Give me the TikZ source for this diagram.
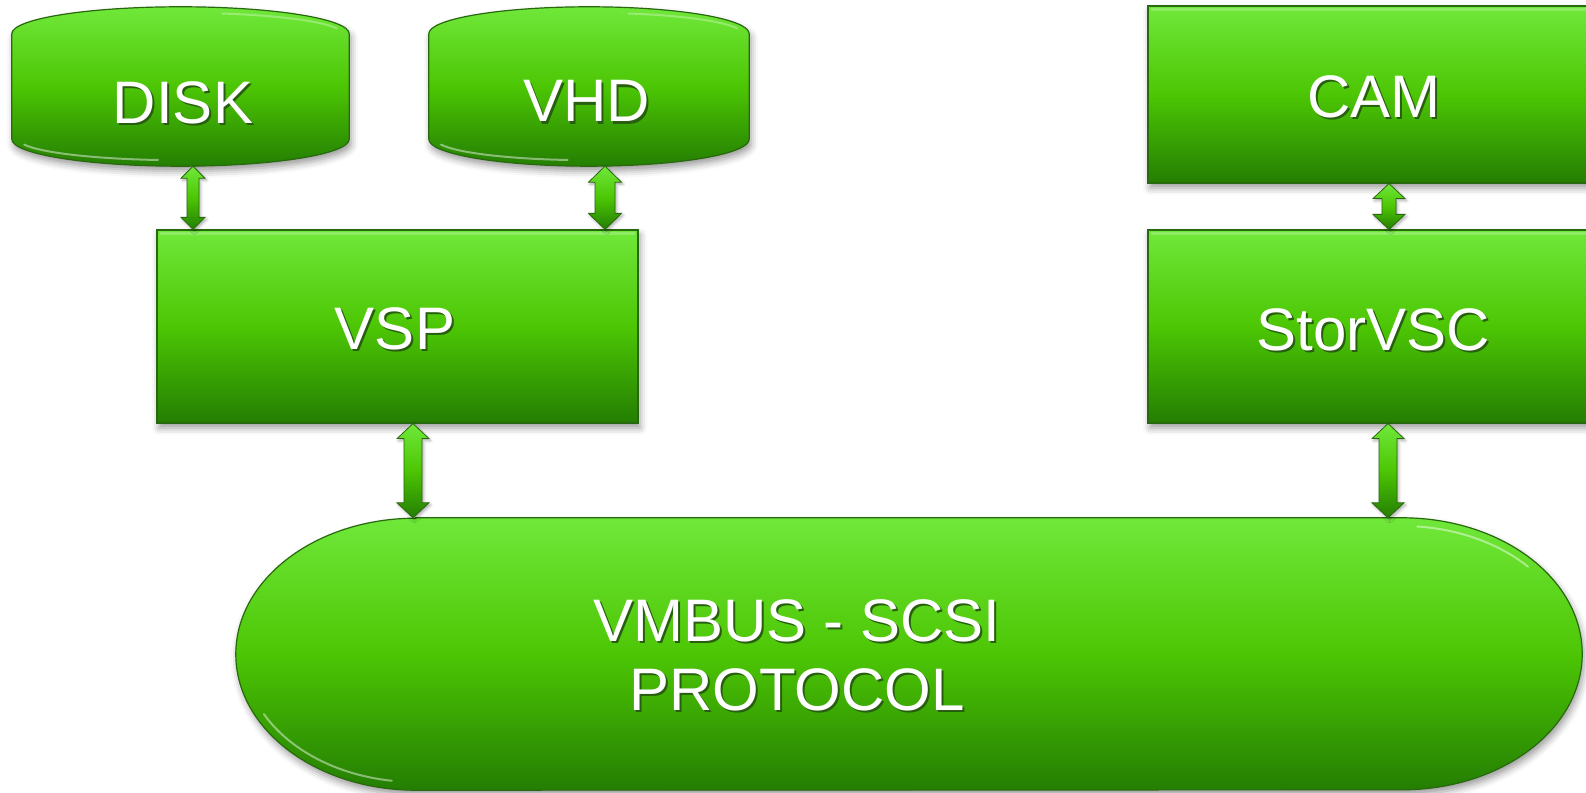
\documentclass[tikz,border=0pt]{standalone}
\usepackage{fontspec}
\setmainfont{Liberation Sans}
\usetikzlibrary{calc,shadows.blur}

\definecolor{gtop}{RGB}{112,232,58}
\definecolor{gmid}{RGB}{76,198,4}
\definecolor{gbot}{RGB}{36,126,2}
\definecolor{gline}{RGB}{40,104,14}
\definecolor{tshade}{RGB}{40,94,16}

% white caption with a dark offset copy behind it
\newcommand\shtxt[1]{\leavevmode\rlap{\kern2pt\raisebox{-2.2pt}{\color{tshade}#1}}#1}

% double-headed block arrow: top point, bottom point, shaft half width, head half width, head length
\newcommand\dblarrow[5]{%
  \path[arrowbody] let \p1=#1, \p2=#2 in
    (\x1,\y1) -- (\x1+#4pt,\y1-#5pt) -- (\x1+#3pt,\y1-#5pt) -- (\x1+#3pt,\y2+#5pt)
    -- (\x1+#4pt,\y2+#5pt) -- (\x1,\y2) -- (\x1-#4pt,\y2+#5pt) -- (\x1-#3pt,\y2+#5pt)
    -- (\x1-#3pt,\y1-#5pt) -- (\x1-#4pt,\y1-#5pt) -- cycle;}

% box whose top and bottom edges are half ellipses, fitted to a node
\newcommand\drumshape[1]{%
  \path[shapefill,dropshadow] let \p1=(#1.south west), \p2=(#1.north east),
      \n1={0.5*(\x2-\x1)} in
    (\x1,\y1+27pt) -- (\x1,\y2-27pt)
    arc[start angle=180, end angle=0, x radius=\n1, y radius=27pt]
    -- (\x2,\y1+27pt)
    arc[start angle=0, end angle=-180, x radius=\n1, y radius=27pt] -- cycle;
  \path[gloss] let \p1=(#1.south west), \p2=(#1.north east),
      \n1={0.5*(\x2-\x1)-7pt}, \n2={0.5*(\x1+\x2)} in
    ([shift={(195:\n1 and 21pt)}]\n2,\y1+27pt)
    arc[start angle=195, end angle=262, x radius=\n1, y radius=21pt];
  \path[gloss, opacity=0.3] let \p1=(#1.south west), \p2=(#1.north east),
      \n1={0.5*(\x2-\x1)-7pt}, \n2={0.5*(\x1+\x2)} in
    ([shift={(75:\n1 and 21pt)}]\n2,\y2-27pt)
    arc[start angle=75, end angle=15, x radius=\n1, y radius=21pt];}

\tikzset{
  shapefill/.style={top color=gtop, bottom color=gbot, middle color=gmid,
    draw=gline, line width=1.2pt},
  dropshadow/.style={blur shadow={shadow xshift=2pt, shadow yshift=-5pt,
    shadow blur radius=7pt, shadow opacity=40}},
  boxnode/.style={shapefill, dropshadow, rectangle, inner sep=0pt},
  holder/.style={rectangle, inner sep=0pt},
  captxt/.style={text=white, font=\fontsize{60}{69}\selectfont, inner sep=0pt,
    align=center},
  arrowbody/.style={top color=gtop, bottom color=gbot, middle color=gmid,
    draw=gline, line width=0.8pt,
    blur shadow={shadow xshift=1.5pt, shadow yshift=-2pt, shadow blur radius=3pt,
      shadow opacity=35}},
  gloss/.style={draw=white, line width=2pt, opacity=0.45, line cap=round},
  bevel/.style={draw=white, line width=2.5pt, opacity=0.22},
}

\begin{document}
\begin{tikzpicture}[x=1pt,y=1pt]
\useasboundingbox (0,0) rectangle (1586,792);

% frames for the drum and bus outlines
\node[holder, minimum width=337pt, minimum height=159pt] (disk) at (180.5,705.5) {};
\node[holder, minimum width=320pt, minimum height=159pt] (vhd) at (589,705.5) {};
\node[holder, minimum width=1346pt, minimum height=272pt] (bus) at (909,138) {};

\drumshape{disk}
\drumshape{vhd}
\path[shapefill,dropshadow]
  ($(bus.north west)+(180,0)$) -- ($(bus.north east)-(180,0)$)
  arc[start angle=90, end angle=-90, x radius=180, y radius=136]
  -- ($(bus.south west)+(180,0)$)
  arc[start angle=270, end angle=90, x radius=180, y radius=136] -- cycle;
% highlights just inside the rounded ends of the bus
\path[gloss] ($(bus.east)+(-165,127.5)$)
  arc[start angle=85, end angle=43, x radius=172, y radius=128];
\path[gloss] ($(bus.west)+(28.1,-60.1)$)
  arc[start angle=208, end angle=262, x radius=172, y radius=128];

% rectangular blocks
\node[boxnode, minimum width=481pt, minimum height=193pt] (vsp) at (397.5,465.5) {};
\node[boxnode, minimum width=450pt, minimum height=177pt] (cam) at (1373,697.5) {};
\node[boxnode, minimum width=450pt, minimum height=193pt] (storvsc) at (1373,465.5) {};
\foreach \b in {vsp,cam,storvsc}
  \path[bevel] ($(\b.north west)+(4,-4)$) -- ($(\b.north east)+(-4,-4)$);

% arrow columns
\coordinate (ax1) at (193,0);
\coordinate (ax2) at (605,0);
\coordinate (ax3) at (413,0);
\coordinate (ax4) at (1388,0);
\coordinate (ax5) at (1389,0);

\dblarrow{(disk.south -| ax1)}{(vsp.north -| ax1)}{6}{12}{12}
\dblarrow{(vhd.south -| ax2)}{(vsp.north -| ax2)}{10}{16.5}{16}
\dblarrow{(vsp.south -| ax3)}{(bus.north -| ax3)}{9}{16}{15}
\dblarrow{(storvsc.south -| ax4)}{(bus.north -| ax4)}{9}{16}{15}
\dblarrow{(cam.south -| ax5)}{(storvsc.north -| ax5)}{7}{16}{15}

% captions
\node[captxt] (disk-t) at (183,688.5) {\shtxt{DISK}};
\node[captxt] (vhd-t) at (586.5,689.7) {\shtxt{VHD}};
\node[captxt] (cam-t) at (1374,694) {\shtxt{CAM}};
\node[captxt] (vsp-t) at (395,462) {\shtxt{VSP}};
\node[captxt] (storvsc-t) at (1373.5,461.5) {\shtxt{StorVSC}};
\node[captxt] (bus-t) at (797,136) {\shtxt{VMBUS - SCSI}\\\shtxt{PROTOCOL}};
\end{tikzpicture}
\end{document}
